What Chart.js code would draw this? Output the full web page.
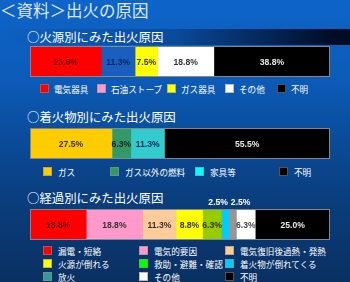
<!DOCTYPE html>
<html>
<head>
<meta charset="utf-8">
<script src="https://cdn.jsdelivr.net/npm/chart.js@4/dist/chart.umd.min.js"></script>
<style>
  body { margin: 0; background: #0a3a78; }
  #page {
    position: relative; width: 350px; height: 282px; overflow: hidden;
    background: linear-gradient(to bottom, #0e64c8 0%, #0c5bb8 28%, #0a4b98 50%, #0a3d7c 72%, #0a3062 100%);
    font-family: "Noto Sans CJK JP", sans-serif; color: #fff;
  }
  .band {
    position: absolute; left: 0; top: 29px; width: 350px; height: 16px;
    background: linear-gradient(to right, rgba(0,10,40,0) 0%, rgba(0,10,40,0.25) 50%, rgba(0,8,30,0.95) 95%, rgba(0,8,30,0.95) 100%);
  }
  .t { position: absolute; white-space: nowrap; line-height: 1; }
  .title { left: 0; top: 2px; font-size: 16.5px; color: #dfe6f0; }
  .sub { left: 27px; font-size: 12.4px; color: #fff; }
  .chart { position: absolute; left: 30px; }
  .sw { position: absolute; width: 9px; height: 9px; box-sizing: border-box; border: 1px solid rgba(140,140,140,0.6); }
  .lt { position: absolute; font-size: 8.6px; line-height: 1; white-space: nowrap; color: #fff; }
</style>
</head>
<body>
<div id="page">
  <div class="band"></div>
  <div class="t title">＜資料＞出火の原因</div>
  <div class="t sub" style="top:31px">○火源別にみた出火原因</div>
  <div class="t sub" style="top:111px">○着火物別にみた出火原因</div>
  <div class="t sub" style="top:192px">○経過別にみた出火原因</div>
  <canvas id="sourceChart" class="chart" width="300" height="31" style="top:46px"></canvas>
  <canvas id="ignitedChart" class="chart" width="300" height="31" style="top:128px"></canvas>
  <canvas id="processChart" class="chart" width="300" height="42" style="top:198px"></canvas>
  <div id="legends"></div>
</div>
<script>
// 火源別
const sourceLabels = ["電気器具", "石油ストーブ", "ガス器具", "その他", "不明"];
const sourceValues = [23.8, 11.3, 7.5, 18.8, 38.8];
const sourceBarColors = ["#ff0000", "#1a5fbf", "#ffff00", "#ffffff", "#000000"];
const sourceLegendColors = ["#ff0000", "#ff99cc", "#ffff00", "#ffffff", "#000000"];
const sourceTextColors = ["#6a0000", "#0a2a66", "#333333", "#333333", "#e8e8e8"];

// 着火物別
const ignitedLabels = ["ガス", "ガス以外の燃料", "家具等", "不明"];
const ignitedValues = [27.5, 6.3, 11.3, 55.5];
const ignitedBarColors = ["#ffcc00", "#339966", "#33cccc", "#000000"];
const ignitedLegendColors = ["#ffcc00", "#339966", "#00ffff", "#000000"];
const ignitedTextColors = ["#333333", "#222222", "#0a2a66", "#e8e8e8"];

// 経過別
const processLabels = ["漏電・短絡", "電気的要因", "電気復旧後過熱・発熱", "火源が倒れる",
  "救助・避難・確認", "着火物が倒れてくる", "放火", "その他", "不明"];
const processValues = [18.8, 18.8, 11.3, 8.8, 6.3, 2.5, 2.5, 6.3, 25.0];
const processBarColors = ["#ff0000", "#ff99cc", "#ffcc99", "#ffff00", "#99cc00",
  "#00ccff", "#969696", "#ffffff", "#000000"];
const processLegendColors = ["#ff0000", "#ff99cc", "#ffcc99", "#ffff00", "#00ff00",
  "#00ccff", "#339999", "#ffffff", "#000000"];
const processTextColors = ["#6a0000", "#333333", "#333333", "#333333", "#333333",
  "#ffffff", "#ffffff", "#444444", "#e8e8e8"];

// percent labels inside the bar; tiny segments get their label above
function segmentLabels(textColors) {
  return {
    id: "segmentLabels",
    afterDatasetsDraw(chart) {
      const { ctx, chartArea: { top, bottom, left, right } } = chart;
      ctx.save();
      ctx.strokeStyle = "#7f8790";
      ctx.lineWidth = 1;
      ctx.strokeRect(left + 0.5, top + 0.5, right - left - 1, bottom - top - 1);
      ctx.font = "bold 8.6px 'Liberation Sans', Arial, sans-serif";
      ctx.textAlign = "center";
      ctx.textBaseline = "middle";
      let small = 0;
      chart.data.datasets.forEach((ds, i) => {
        const el = chart.getDatasetMeta(i).data[0];
        const v = ds.data[0];
        const cx = (el.x + el.base) / 2;
        const txt = v.toFixed(1) + "%";
        if (v < 3) {
          ctx.fillStyle = "#ffffff";
          ctx.fillText(txt, cx + (small % 2 === 0 ? -7 : 8), top - 6);
          small++;
        } else {
          ctx.fillStyle = textColors[i];
          ctx.fillText(txt, cx, el.y + 1);
        }
      });
      ctx.restore();
    },
  };
}

function makeBar(id, labels, values, colors, textColors, topPad) {
  const total = values.reduce((a, b) => a + b, 0);
  return new Chart(document.getElementById(id), {
    type: "bar",
    data: {
      labels: [""],
      datasets: values.map((v, i) => ({
        label: labels[i],
        data: [v],
        backgroundColor: colors[i],
        borderWidth: 0,
        barPercentage: 1,
        categoryPercentage: 1,
      })),
    },
    options: {
      indexAxis: "y",
      responsive: false,
      animation: false,
      layout: { padding: { top: topPad, left: 0, right: 0, bottom: 0 } },
      scales: {
        x: { stacked: true, display: false, min: 0, max: total },
        y: { stacked: true, display: false },
      },
      plugins: { legend: { display: false }, tooltip: { enabled: false } },
    },
    plugins: [segmentLabels(textColors)],
  });
}

makeBar("sourceChart", sourceLabels, sourceValues, sourceBarColors, sourceTextColors, 0);
makeBar("ignitedChart", ignitedLabels, ignitedValues, ignitedBarColors, ignitedTextColors, 0);
makeBar("processChart", processLabels, processValues, processBarColors, processTextColors, 11);

// html legends
function makeLegend(labels, colors, xs, ys, gap) {
  const box = document.getElementById("legends");
  labels.forEach((lab, i) => {
    const x = xs[i % xs.length];
    const y = ys[Math.floor(i / xs.length)];
    const sw = document.createElement("div");
    sw.className = "sw";
    sw.style.left = x + "px";
    sw.style.top = y + "px";
    sw.style.background = colors[i];
    box.appendChild(sw);
    const t = document.createElement("div");
    t.className = "lt";
    t.textContent = lab;
    t.style.left = (x + gap) + "px";
    t.style.top = (y + 0.5) + "px";
    box.appendChild(t);
  });
}

makeLegend(sourceLabels, sourceLegendColors, [40, 97, 167, 225, 277], [84], 14);
makeLegend(ignitedLabels, ignitedLegendColors, [43, 110, 195, 279], [167], 15);
makeLegend(processLabels, processLegendColors, [43, 139, 225], [246, 259, 272], 15);
</script>
</body>
</html>
